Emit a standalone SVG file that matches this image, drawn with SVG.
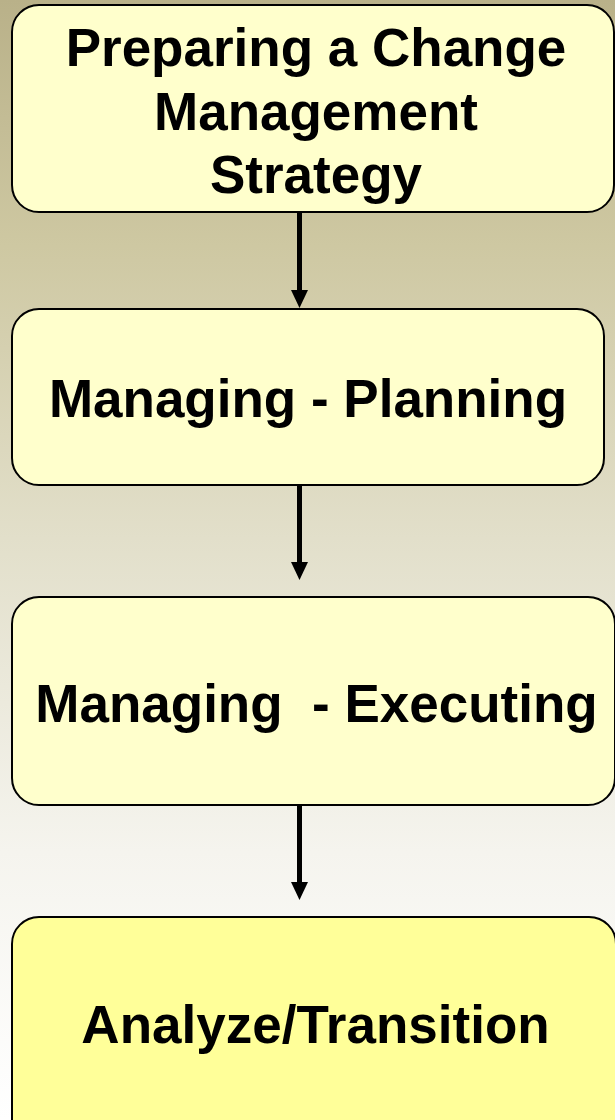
<svg xmlns="http://www.w3.org/2000/svg" width="615" height="1120" viewBox="0 0 615 1120">
<defs>
<linearGradient id="bg" x1="0" y1="0" x2="0" y2="1">
<stop offset="0" stop-color="#b9b189"/>
<stop offset="0.22" stop-color="#cec8a2"/>
<stop offset="0.48" stop-color="#e2dfca"/>
<stop offset="0.76" stop-color="#f5f4ee"/>
<stop offset="1" stop-color="#ffffff"/>
</linearGradient>
<marker id="ah" viewBox="0 0 18 17" refX="5" refY="8.5" markerWidth="18" markerHeight="17" markerUnits="userSpaceOnUse" orient="auto">
<path d="M0,0 L18,8.5 L0,17 Z" fill="#000"/>
</marker>
<style>
.box{fill:#ffffcc;stroke:#000;stroke-width:2}
.box4{fill:#ffff99;stroke:#000;stroke-width:2}
.t{font-family:"Liberation Sans",Arial,sans-serif;font-weight:bold;font-size:53px;fill:#000;text-anchor:middle}
.c{stroke:#000;stroke-width:5;fill:none}
</style>
</defs>
<rect x="0" y="0" width="615" height="1120" fill="url(#bg)"/>
<g id="connectors">
<line class="c" x1="299.5" y1="213" x2="299.5" y2="295" marker-end="url(#ah)"/>
<line class="c" x1="299.5" y1="486" x2="299.5" y2="567" marker-end="url(#ah)"/>
<line class="c" x1="299.5" y1="806" x2="299.5" y2="887" marker-end="url(#ah)"/>
</g>
<g id="node1">
<rect class="box" x="12" y="5" width="602" height="207" rx="27"/>
<text class="t" x="316" y="66">Preparing a Change</text>
<text class="t" x="316" y="130">Management</text>
<text class="t" x="316" y="193">Strategy</text>
</g>
<g id="node2">
<rect class="box" x="12" y="309" width="592" height="176" rx="27"/>
<text class="t" x="308" y="417">Managing - Planning</text>
</g>
<g id="node3">
<rect class="box" x="12" y="597" width="603" height="208" rx="27"/>
<text class="t" x="316.5" y="722" xml:space="preserve">Managing  - Executing</text>
</g>
<g id="node4">
<rect class="box4" x="12" y="917" width="604" height="230" rx="27"/>
<text class="t" x="315.5" y="1043">Analyze/Transition</text>
</g>
</svg>
